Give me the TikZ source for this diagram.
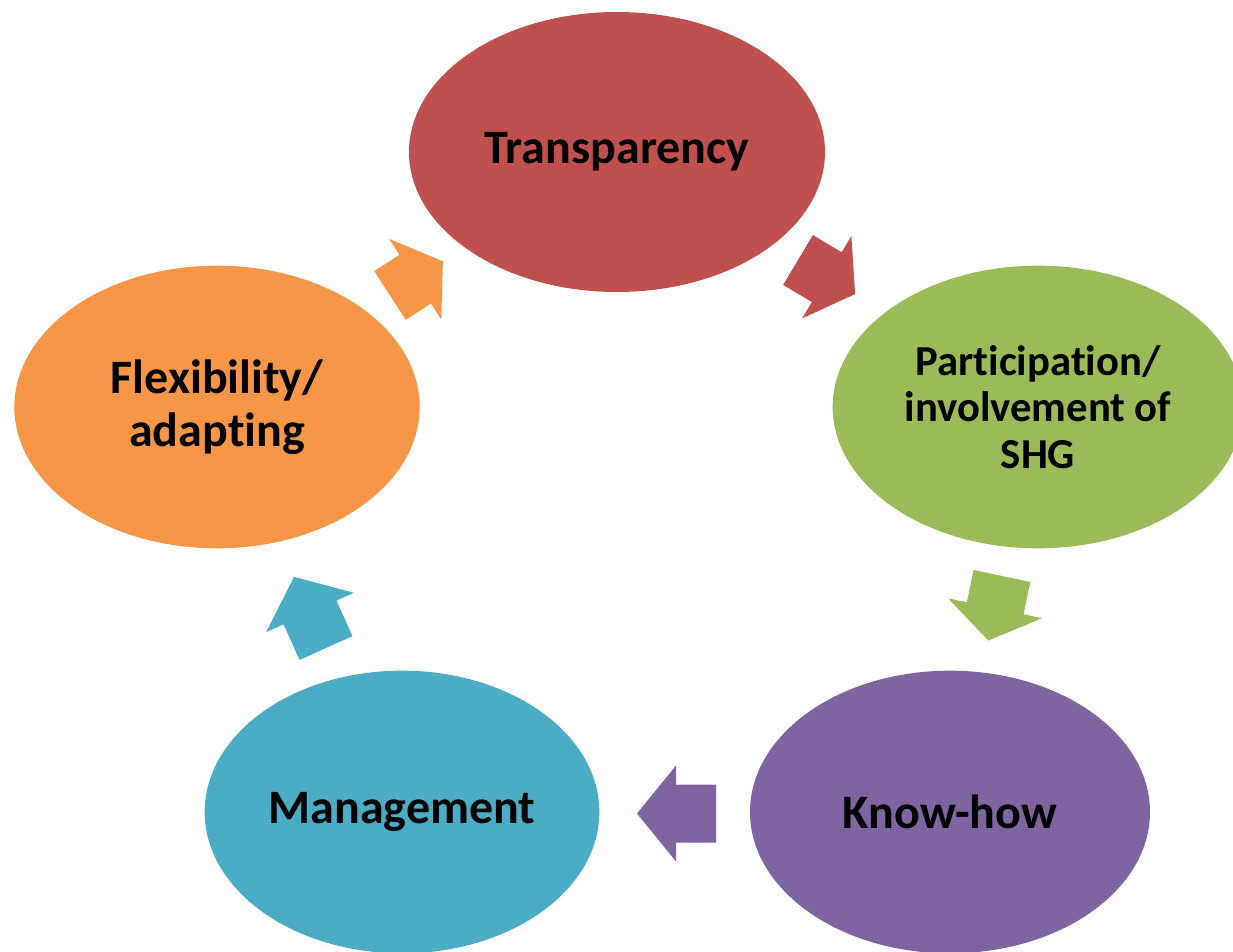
\documentclass[tikz,border=0pt]{standalone}
\usepackage{fontspec}
\setmainfont[Ligatures=NoCommon]{Carlito}
\usetikzlibrary{shapes.geometric,positioning}
\definecolor{transcol}{HTML}{C0504D}
\definecolor{partcol}{HTML}{9BBB59}
\definecolor{knowcol}{HTML}{8064A2}
\definecolor{mgmtcol}{HTML}{4BACC6}
\definecolor{flexcol}{HTML}{F79646}
\tikzset{
	cyc/.style={ellipse, inner sep=0pt, text=black, align=center,
		font=\fontsize{36}{40}\selectfont\bfseries},
	pics/blockarrow/.style args={#1/#2}{code={
		\fill (0,-29) -- (#1,-29) -- (#1,-48) -- ({#1+#2},0) -- (#1,48) -- (#1,29) -- (0,29) -- cycle;
	}}
}
\begin{document}
\begin{tikzpicture}[x=0.75pt,y=-0.75pt]
	\useasboundingbox (0,0) rectangle (1233,952);
	% the five stages
	\node[cyc, fill=transcol, minimum width=312pt, minimum height=210pt] (trans) at (617,152) {Transparency};
	\node[cyc, fill=partcol, minimum width=308pt, minimum height=212pt,
		font=\fontsize{32}{35}\selectfont\bfseries] (part) at (1038,407) {Participation/\\involvement of\\SHG};
	\node[cyc, fill=knowcol, minimum width=300pt, minimum height=212pt] (know) at (950,812) {Know-how};
	\node[cyc, fill=mgmtcol, minimum width=296pt, minimum height=212pt] (mgmt) at (402,812) {Management};
	\node[cyc, fill=flexcol, minimum width=304pt, minimum height=212pt] (flex) at (217,407) {Flexibility/\\adapting};
	% block arrows between them
	\pic[fill=transcol, rotate=-30.8] at (798,260) {blockarrow=33.5/33};
	\pic[fill=partcol, rotate=-101.9] at (1002,576) {blockarrow=33/33};
	\pic[fill=knowcol, rotate=180] at (716,813.5) {blockarrow=40/39};
	\pic[fill=mgmtcol, rotate=114.2] at (326,648) {blockarrow=39/39};
	\pic[fill=flexcol, rotate=32.9] at (390,295.5) {blockarrow=30/33};
\end{tikzpicture}
\end{document}
